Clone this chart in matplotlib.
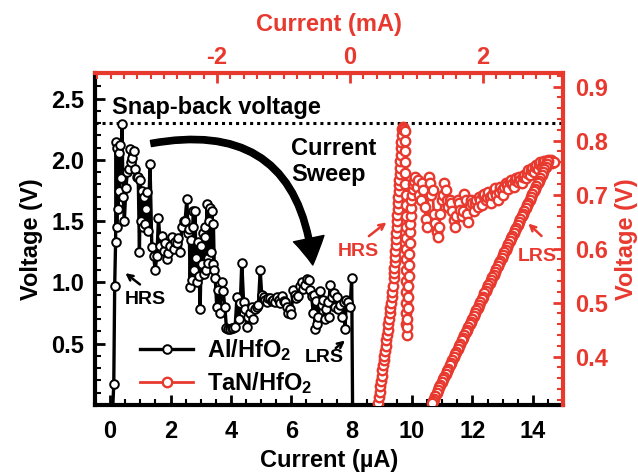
import matplotlib.pyplot as plt
from matplotlib.patches import FancyArrowPatch
from matplotlib.ticker import MultipleLocator, FixedLocator

plt.rcParams['font.family'] = ['Liberation Sans', 'DejaVu Sans']
plt.rcParams['font.weight'] = 'bold'
plt.rcParams['mathtext.default'] = 'regular'
plt.rcParams['axes.unicode_minus'] = False

RED = '#e8392f'

# Al/HfO2 : current (uA, bottom axis) vs voltage (V, left axis)
al_current = [0.08, 0.12, 0.15, 0.18, 0.20, 0.22, 0.24, 0.26, 0.28, 0.30,
              0.33, 0.36, 0.39, 0.43, 0.47, 0.52, 0.57, 0.62, 0.66, 0.70,
              0.74, 0.78, 0.83, 0.88, 0.93, 0.97, 1.00, 1.03, 1.06, 1.09,
              1.12, 1.15, 1.18, 1.22, 1.26, 1.32, 1.38, 1.44, 1.49, 1.55,
              1.60, 1.66, 1.71, 1.77, 1.82, 1.88, 1.93, 1.98, 2.04, 2.10,
              2.15, 2.20, 2.26, 2.32, 2.37, 2.43, 2.48, 2.54, 2.58, 2.62,
              2.65, 2.68, 2.70, 2.73, 2.76, 2.79, 2.81, 2.84, 2.87, 2.91,
              2.95, 2.98, 3.02, 3.05, 3.08, 3.10, 3.13, 3.15, 3.18, 3.20,
              3.23, 3.25, 3.28, 3.30, 3.34, 3.37, 3.40, 3.42, 3.45, 3.48,
              3.53, 3.58, 3.64, 3.70, 3.74, 3.80, 3.85, 3.91, 3.97, 4.03,
              4.08, 4.14, 4.20, 4.26, 4.31, 4.36, 4.42, 4.47, 4.52, 4.58,
              4.64, 4.69, 4.74, 4.80, 4.85, 4.91, 4.97, 5.02, 5.08, 5.13,
              5.19, 5.24, 5.30, 5.35, 5.40, 5.46, 5.52, 5.58, 5.63, 5.69,
              5.75, 5.80, 5.85, 5.90, 5.95, 6.00, 6.06, 6.11, 6.17, 6.22,
              6.28, 6.35, 6.40, 6.46, 6.52, 6.57, 6.62, 6.67, 6.73, 6.76,
              6.79, 6.82, 6.84, 6.90, 6.95, 7.00, 7.05, 7.10, 7.15, 7.20,
              7.24, 7.28, 7.34, 7.40, 7.45, 7.50, 7.56, 7.62, 7.67, 7.73,
              7.78, 7.82, 7.89, 7.95, 8.00, 8.03]
al_voltage = [-0.05, 0.17, 0.97, 1.33, 2.15, 1.45, 2.10, 1.60, 2.06, 1.75,
              2.12, 1.85, 2.29, 1.70, 1.50, 1.77, 1.90, 1.93, 2.09, 1.98,
              2.02, 2.07, 1.93, 1.86, 1.86, 1.25, 1.84, 1.50, 1.75, 1.45,
              1.70, 1.48, 1.60, 1.74, 1.42, 1.97, 1.29, 1.22, 1.10, 1.22,
              1.53, 1.30, 1.38, 1.26, 1.32, 1.19, 1.24, 1.30, 1.37, 1.27,
              1.33, 1.32, 1.36, 1.25, 1.45, 1.50, 1.50, 1.68, 1.40, 1.44,
              0.96, 1.35, 1.02, 1.45, 1.58, 1.10, 1.58, 1.20, 1.00, 1.33,
              1.05, 0.78, 1.30, 1.15, 1.40, 1.07, 1.45, 1.37, 1.10, 1.64,
              1.20, 1.16, 1.50, 1.61, 1.25, 1.58, 1.15, 1.48, 1.10, 1.04,
              0.80, 0.94, 0.75, 1.00, 0.93, 0.80, 0.63, 0.62, 0.62, 0.63,
              0.63, 0.64, 0.88, 0.70, 0.83, 1.16, 0.84, 0.78, 0.64, 0.72,
              0.75, 0.80, 0.70, 0.78, 0.80, 0.82, 1.10, 0.90, 0.88, 0.86,
              0.84, 0.87, 0.87, 0.85, 0.86, 0.84, 0.88, 0.86, 0.83, 0.89,
              0.85, 0.84, 0.80, 0.75, 0.78, 0.74, 0.94, 0.90, 0.87, 0.89,
              0.97, 1.00, 0.95, 0.98, 1.03, 1.02, 0.94, 0.89, 0.75, 0.90,
              0.62, 0.85, 0.66, 0.72, 0.93, 0.82, 0.86, 0.70, 0.78, 0.84,
              0.72, 0.98, 0.88, 0.91, 0.80, 0.88, 0.78, 0.82, 0.72, 0.84,
              0.62, 0.86, 0.84, 0.80, 1.04, -0.05]

# TaN/HfO2 : current (mA, top axis) vs voltage (V, right axis), one list per sweep part
hrs_current = [0.415, 0.425, 0.435, 0.445, 0.455, 0.465, 0.475, 0.485, 0.495, 0.505,
               0.515, 0.525, 0.535, 0.545, 0.555, 0.565, 0.575, 0.585, 0.595, 0.605,
               0.615, 0.625, 0.635, 0.645, 0.655, 0.66, 0.665, 0.67, 0.675, 0.68,
               0.685, 0.69, 0.695, 0.70, 0.705, 0.71, 0.715, 0.72, 0.725, 0.73,
               0.735, 0.74, 0.745, 0.75, 0.755, 0.76, 0.765, 0.77, 0.775, 0.78,
               0.79, 0.80, 0.81, 0.82]
hrs_voltage = [0.305, 0.315, 0.325, 0.335, 0.345, 0.355, 0.365, 0.375, 0.385, 0.393,
               0.402, 0.411, 0.420, 0.430, 0.440, 0.450, 0.460, 0.470, 0.480, 0.490,
               0.500, 0.510, 0.520, 0.530, 0.545, 0.555, 0.565, 0.575, 0.585, 0.596,
               0.607, 0.618, 0.629, 0.640, 0.651, 0.662, 0.673, 0.684, 0.695, 0.706,
               0.717, 0.728, 0.739, 0.750, 0.762, 0.774, 0.786, 0.798, 0.810, 0.822,
               0.826, 0.824, 0.822, 0.818]
snap_current = [0.825, 0.828, 0.83, 0.83, 0.832, 0.834, 0.835, 0.836, 0.837, 0.838,
                0.84, 0.84, 0.842, 0.843, 0.844, 0.845, 0.846, 0.848, 0.85,
                0.855, 0.86, 0.865, 0.87, 0.875, 0.88, 0.885, 0.89, 0.895, 0.90,
                0.905, 0.91, 0.915, 0.92, 0.93, 0.94, 0.95, 0.96]
snap_voltage = [0.80, 0.78, 0.76, 0.74, 0.72, 0.70, 0.68, 0.66, 0.64, 0.62,
                0.60, 0.58, 0.56, 0.54, 0.52, 0.50, 0.48, 0.46, 0.44,
                0.455, 0.47, 0.49, 0.51, 0.53, 0.55, 0.57, 0.59, 0.61, 0.63,
                0.645, 0.66, 0.675, 0.69, 0.70, 0.71, 0.72, 0.725]
noisy_current = [0.98, 1.00, 1.02, 1.04, 1.06, 1.08, 1.10, 1.12, 1.14, 1.16,
                 1.18, 1.20, 1.22, 1.24, 1.26, 1.28, 1.30, 1.32, 1.34, 1.36,
                 1.38, 1.40, 1.42, 1.44, 1.46, 1.48, 1.50, 1.52, 1.54, 1.56,
                 1.58, 1.60, 1.62, 1.64, 1.66, 1.68, 1.70, 1.72, 1.74, 1.76,
                 1.78, 1.80, 1.82, 1.84, 1.86, 1.88, 1.90, 1.92, 1.94, 1.96,
                 1.98, 2.00, 2.02, 2.04, 2.06, 2.08, 2.10, 2.12, 2.14, 2.16,
                 2.18, 2.20, 2.22, 2.24, 2.26, 2.28, 2.30, 2.32, 2.34, 2.36,
                 2.38, 2.40, 2.42, 2.44, 2.46, 2.48, 2.50, 2.52, 2.54, 2.56,
                 2.58, 2.60, 2.62, 2.64, 2.66, 2.68, 2.70, 2.72, 2.74, 2.76,
                 2.78, 2.80, 2.82, 2.84, 2.86, 2.88, 2.90, 2.92, 2.94, 2.96,
                 2.98, 3.00, 3.02, 3.04, 3.06]
noisy_voltage = [0.733, 0.715, 0.727, 0.700, 0.690, 0.721, 0.709, 0.678, 0.655, 0.640,
                 0.733, 0.721, 0.700, 0.709, 0.665, 0.647, 0.630, 0.622, 0.640, 0.665,
                 0.690, 0.700, 0.721, 0.709, 0.690, 0.678, 0.690, 0.684, 0.670, 0.653,
                 0.640, 0.660, 0.690, 0.684, 0.672, 0.660, 0.670, 0.702, 0.690, 0.665,
                 0.650, 0.680, 0.690, 0.684, 0.670, 0.684, 0.690, 0.678, 0.696, 0.690,
                 0.680, 0.700, 0.702, 0.690, 0.696, 0.705, 0.696, 0.684, 0.700, 0.709,
                 0.712, 0.700, 0.690, 0.705, 0.715, 0.709, 0.700, 0.715, 0.721, 0.718,
                 0.710, 0.724, 0.727, 0.720, 0.715, 0.727, 0.730, 0.724, 0.733, 0.727,
                 0.721, 0.733, 0.737, 0.730, 0.740, 0.745, 0.737, 0.745, 0.750, 0.742,
                 0.752, 0.755, 0.748, 0.757, 0.760, 0.752, 0.760, 0.763, 0.757, 0.763,
                 0.765, 0.760, 0.764, 0.758, 0.760]
lrs_current = [2.98, 2.96, 2.94, 2.92, 2.90, 2.88, 2.86, 2.84, 2.82, 2.80,
               2.78, 2.76, 2.74, 2.72, 2.70, 2.68, 2.66, 2.64, 2.62, 2.60,
               2.58, 2.56, 2.54, 2.52, 2.50, 2.48, 2.46, 2.44, 2.42, 2.40,
               2.38, 2.36, 2.34, 2.32, 2.30, 2.28, 2.26, 2.24, 2.22, 2.20,
               2.18, 2.16, 2.14, 2.12, 2.10, 2.08, 2.06, 2.04, 2.02, 2.00,
               1.98, 1.96, 1.94, 1.92, 1.90, 1.88, 1.86, 1.84, 1.82, 1.80,
               1.78, 1.76, 1.74, 1.72, 1.70, 1.68, 1.66, 1.64, 1.62, 1.60,
               1.58, 1.56, 1.54, 1.52, 1.50, 1.48, 1.46, 1.44, 1.42, 1.40,
               1.38, 1.36, 1.34, 1.32, 1.30, 1.28, 1.26, 1.24, 1.23]
lrs_voltage = [0.762, 0.757, 0.752, 0.747, 0.742, 0.736, 0.731, 0.726, 0.721, 0.716,
               0.711, 0.706, 0.701, 0.695, 0.690, 0.685, 0.680, 0.675, 0.670, 0.665,
               0.660, 0.655, 0.649, 0.644, 0.639, 0.634, 0.629, 0.624, 0.619, 0.614,
               0.609, 0.603, 0.598, 0.593, 0.588, 0.583, 0.578, 0.573, 0.568, 0.563,
               0.557, 0.552, 0.547, 0.542, 0.537, 0.532, 0.527, 0.522, 0.517, 0.511,
               0.506, 0.501, 0.496, 0.491, 0.486, 0.481, 0.476, 0.470, 0.465, 0.460,
               0.455, 0.450, 0.445, 0.440, 0.435, 0.430, 0.424, 0.419, 0.414, 0.409,
               0.404, 0.399, 0.394, 0.389, 0.384, 0.378, 0.373, 0.368, 0.363, 0.358,
               0.353, 0.348, 0.343, 0.338, 0.332, 0.327, 0.322, 0.317, 0.314]

tan_current = hrs_current + snap_current + noisy_current + lrs_current
tan_voltage = hrs_voltage + snap_voltage + noisy_voltage + lrs_voltage

snap_back = 2.30

fig = plt.figure(figsize=(6.38, 4.72), dpi=100)
ax = fig.add_axes([0.149, 0.142, 0.7335, 0.7034])
ax_r = ax.twinx()
ax_t = ax_r.twiny()

al_line, = ax.plot(al_current, al_voltage, color='black', lw=2.4, marker='o', ms=6.2,
                   mfc='white', mec='black', mew=1.4, label='Al/HfO$_2$', zorder=3)
tan_line, = ax_t.plot(tan_current, tan_voltage, color=RED, lw=2.0, marker='o', ms=6.8,
                      mfc='white', mec=RED, mew=1.7, label='TaN/HfO$_2$')

ax.set_xlim(-0.5, 15.0)
ax.set_ylim(0.0, 2.71)
ax_r.set_ylim(0.3105, 0.9254)
ax_t.set_xlim(-3.835, 3.203)

ax.axhline(snap_back, color='black', lw=2.2, ls=(0, (1, 1.3)), zorder=2)

# spines
for s in ['top', 'right']:
    ax.spines[s].set_visible(False)
for s in ['left', 'bottom']:
    ax.spines[s].set_linewidth(3)
for s in ['left', 'bottom', 'top']:
    ax_r.spines[s].set_visible(False)
ax_r.spines['right'].set_color(RED)
ax_r.spines['right'].set_linewidth(3)
for s in ['left', 'bottom', 'right']:
    ax_t.spines[s].set_visible(False)
ax_t.spines['top'].set_color(RED)
ax_t.spines['top'].set_linewidth(3)

# ticks
ax.xaxis.set_major_locator(MultipleLocator(2))
ax.xaxis.set_minor_locator(MultipleLocator(0.5))
ax.yaxis.set_major_locator(FixedLocator([0.5, 1.0, 1.5, 2.0, 2.5]))
ax.yaxis.set_minor_locator(MultipleLocator(0.1))
ax_r.yaxis.set_major_locator(MultipleLocator(0.1))
ax_r.yaxis.set_minor_locator(MultipleLocator(0.02))
ax_t.xaxis.set_major_locator(MultipleLocator(2))
ax_t.xaxis.set_minor_locator(MultipleLocator(0.2))

ax.tick_params(which='major', direction='in', length=7, width=2, labelsize=17)
ax.tick_params(which='minor', direction='in', length=4, width=1.5)
ax.tick_params(axis='x', pad=11)
ax.tick_params(axis='y', pad=8)
ax_r.tick_params(which='major', direction='in', length=7, width=2, labelsize=17, pad=9,
                 color=RED, labelcolor=RED)
ax_r.tick_params(which='minor', direction='in', length=4, width=1.5, color=RED)
ax_t.tick_params(which='major', direction='in', length=7, width=2, labelsize=17, pad=3,
                 color=RED, labelcolor=RED)
ax_t.tick_params(which='minor', direction='in', length=4, width=1.5, color=RED)

ax.set_xlabel('Current (µA)', fontsize=17, fontweight='bold', labelpad=4)
ax.set_ylabel('Voltage (V)', fontsize=17, fontweight='bold', labelpad=6)
ax_r.set_ylabel('Voltage (V)', fontsize=17, fontweight='bold', color=RED, labelpad=5)
ax_t.set_xlabel('Current (mA)', fontsize=17, fontweight='bold', color=RED, labelpad=11)

# annotations
ax.text(0.07, 2.43, 'Snap-back voltage', fontsize=17, fontweight='bold', va='center')
ax.text(6.0, 1.99, 'Current\nSweep', fontsize=17, fontweight='bold', va='center',
        linespacing=1.15)
ax.text(1.16, 0.86, 'HRS', fontsize=14, fontweight='bold', ha='center', va='center')
ax.annotate('', xy=(0.43, 1.09), xytext=(1.06, 0.97),
            arrowprops=dict(arrowstyle='->', color='black', lw=1.8))
ax.text(7.1, 0.39, 'LRS', fontsize=14, fontweight='bold', ha='center', va='center')
ax.annotate('', xy=(7.85, 0.54), xytext=(7.4, 0.45),
            arrowprops=dict(arrowstyle='->', color='black', lw=1.8))

sweep = FancyArrowPatch((1.26, 2.13), (6.72, 1.12), connectionstyle='arc3,rad=-0.55',
                        arrowstyle='simple,head_length=1.2,head_width=1.4,tail_width=0.28',
                        mutation_scale=16, color='black', zorder=4)
ax.add_patch(sweep)

ax_t.text(0.12, 0.594, 'HRS', fontsize=14, fontweight='bold', color=RED,
          ha='center', va='center')
ax_t.annotate('', xy=(0.58, 0.652), xytext=(0.25, 0.62),
              arrowprops=dict(arrowstyle='->', color=RED, lw=1.8))
ax_t.text(2.81, 0.585, 'LRS', fontsize=14, fontweight='bold', color=RED,
          ha='center', va='center')
ax_t.annotate('', xy=(2.65, 0.65), xytext=(2.91, 0.62),
              arrowprops=dict(arrowstyle='->', color=RED, lw=1.8))

ax_t.legend(handles=[al_line, tan_line], loc='center left', bbox_to_anchor=(0.096, 0.115),
            frameon=False, fontsize=17, handlelength=2.25, handletextpad=0.6,
            labelspacing=0.3, borderpad=0, borderaxespad=0)

fig.savefig('out.png', dpi=100)
